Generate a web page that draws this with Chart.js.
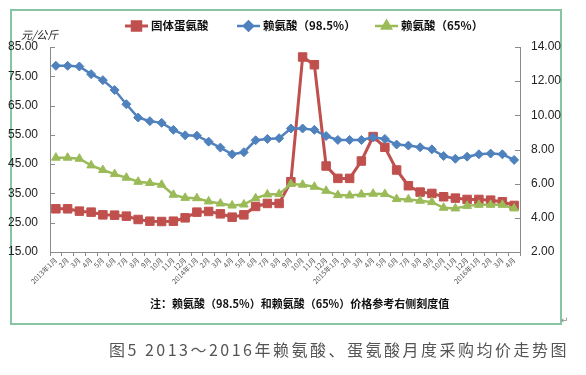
<!DOCTYPE html>
<html><head><meta charset="utf-8">
<script src="https://cdn.jsdelivr.net/npm/chart.js@4.4.1/dist/chart.umd.min.js"></script>
<style>
html,body{margin:0;padding:0;background:#fff;}
#wrap{position:relative;width:586px;height:375px;overflow:hidden;}
#frame{position:absolute;left:10px;top:9px;width:548px;height:312px;border:2px solid #86c4a4;}
canvas{position:absolute;left:0;top:0;}
.t{position:absolute;white-space:nowrap;}
#unit{left:21px;top:26px;font:italic 11px "Noto Sans CJK SC";color:#222;}
#note{left:150px;top:295px;font:bold 11px "Noto Sans CJK SC";color:#111;}
#cap{left:109px;top:337px;font:16px "Noto Sans CJK SC";color:#555;letter-spacing:2.5px;}
#ret{left:561px;top:315px;font:9px "DejaVu Sans";color:#888;}
</style></head>
<body><div id="wrap"><div id="frame"></div><canvas id="c" width="586" height="375"></canvas>
<div class="t" id="unit">元/公斤</div>
<div class="t" id="note">注：赖氨酸（98.5%）和赖氨酸（65%）价格参考右侧刻度值</div>
<div class="t" id="cap">图5 2013～2016年赖氨酸、蛋氨酸月度采购均价走势图</div>
<div class="t" id="ret">↵</div>
</div>
<script>
const months = ["2013年1月","2月","3月","4月","5月","6月","7月","8月","9月","10月","11月","12月",
"2014年1月","2月","3月","4月","5月","6月","7月","8月","9月","10月","11月","12月",
"2015年1月","2月","3月","4月","5月","6月","7月","8月","9月","10月","11月","12月",
"2016年1月","2月","3月","4月"];
const seriesNames = ["固体蛋氨酸","赖氨酸（98.5%）","赖氨酸（65%）"];
const methionine = [29.75,29.75,28.95,28.61,27.69,27.58,27.24,26.10,25.52,25.41,25.52,26.67,
28.61,28.84,28.04,26.89,27.69,30.55,31.58,31.58,39.00,81.58,78.95,44.36,
40.14,40.14,46.07,54.41,50.75,43.00,37.63,35.46,35.00,33.86,33.40,32.95,
32.95,32.70,32.15,30.90];
const lysine985 = [12.90,12.90,12.86,12.41,12.06,11.48,10.65,9.87,9.66,9.56,9.15,8.83,
8.81,8.46,8.11,7.72,7.84,8.54,8.62,8.66,9.23,9.23,9.15,8.79,
8.56,8.56,8.56,8.72,8.62,8.29,8.23,8.13,8.01,7.62,7.46,7.58,
7.72,7.76,7.72,7.39];
const lysine65 = [7.52,7.52,7.46,7.07,6.80,6.56,6.35,6.11,6.04,5.94,5.35,5.17,
5.15,4.96,4.84,4.72,4.78,5.15,5.37,5.39,5.98,5.94,5.82,5.58,
5.33,5.31,5.37,5.41,5.39,5.10,5.08,5.00,4.92,4.59,4.55,4.70,
4.76,4.76,4.76,4.55];
const leftTicks = {min:15, max:85, step:10};
const rightTicks = {min:2, max:14, step:2};

const legendPos = [{x:125,y:26},{x:237,y:26},{x:375,y:26}];
const legendPlugin = {
  id:'customLegend',
  afterDraw(chart){
    const ctx = chart.ctx;
    // inner tick marks on y axes
    ctx.save();
    ctx.strokeStyle = '#8a8a8a'; ctx.lineWidth = 1;
    const a = chart.chartArea;
    ['yL','yR'].forEach(id=>{
      const s = chart.scales[id];
      s.ticks.forEach(t=>{
        const py = Math.round(s.getPixelForValue(t.value))+0.5;
        ctx.beginPath();
        if(id==='yL'){ctx.moveTo(a.left,py);ctx.lineTo(a.left+5,py);}
        else {ctx.moveTo(a.right-5,py);ctx.lineTo(a.right,py);}
        ctx.stroke();
      });
    });
    // legend
    chart.data.datasets.forEach((ds,i)=>{
      const p = legendPos[i];
      ctx.strokeStyle = ds.borderColor; ctx.lineWidth = ds.borderWidth;
      ctx.beginPath(); ctx.moveTo(p.x,p.y); ctx.lineTo(p.x+23,p.y); ctx.stroke();
      ctx.fillStyle = ds.backgroundColor;
      Chart.helpers.drawPoint(ctx,{pointStyle:ds.pointStyle,radius:ds.pointRadius,borderWidth:1},p.x+11.5,p.y);
      ctx.fill();
      ctx.fillStyle = '#111';
      ctx.font = 'bold 11.5px "Noto Sans CJK SC"';
      ctx.textBaseline = 'middle'; ctx.textAlign='left';
      ctx.fillText(ds.label,p.x+26,p.y);
    });
    ctx.restore();
  }
};

new Chart(document.getElementById('c'),{
  type:'line',
  data:{
    labels:months,
    datasets:[
      {label:seriesNames[0],data:methionine,yAxisID:'yL',borderColor:'#C0504D',backgroundColor:'#C0504D',
       pointStyle:'rect',pointRadius:6,pointBorderWidth:1,borderWidth:3,order:2},
      {label:seriesNames[1],data:lysine985,yAxisID:'yR',borderColor:'#4F81BD',backgroundColor:'#4F81BD',
       pointStyle:'rectRot',pointRadius:4.5,pointBorderWidth:1,borderWidth:2.5,order:1},
      {label:seriesNames[2],data:lysine65,yAxisID:'yR',borderColor:'#9BBB59',backgroundColor:'#9BBB59',
       pointStyle:'triangle',pointRadius:5,pointBorderWidth:1,borderWidth:2.5,order:0}
    ]
  },
  options:{
    responsive:false,animation:false,devicePixelRatio:1,
    layout:{padding:{top:47,left:0,right:0,bottom:0}},
    plugins:{legend:{display:false},tooltip:{enabled:false},title:{display:false}},
    scales:{
      x:{offset:true,
         grid:{display:true,drawOnChartArea:false,drawTicks:true,tickLength:4,color:'#8a8a8a',offset:true},
         border:{display:true,color:'#8a8a8a',width:1},
         ticks:{autoSkip:false,maxRotation:45,minRotation:45,padding:0,color:'#555',
                font:{size:7,family:'Noto Sans CJK SC'}},
         afterFit(s){s.height=123;}},
      yL:{position:'left',min:leftTicks.min,max:leftTicks.max,
          grid:{display:false,drawTicks:false},border:{display:true,color:'#8a8a8a',width:1},
          ticks:{stepSize:leftTicks.step,padding:12,color:'#222',font:{size:12,family:'Liberation Sans'},
                 callback:v=>v.toFixed(2)},
          afterFit(s){s.width=50;}},
      yR:{position:'right',min:rightTicks.min,max:rightTicks.max,
          grid:{display:false,drawTicks:false},border:{display:true,color:'#8a8a8a',width:1},
          ticks:{stepSize:rightTicks.step,padding:11,color:'#222',font:{size:12,family:'Liberation Sans'},
                 callback:v=>v.toFixed(2)},
          afterFit(s){s.width=66;}}
    }
  },
  plugins:[legendPlugin]
});
</script></body></html>
